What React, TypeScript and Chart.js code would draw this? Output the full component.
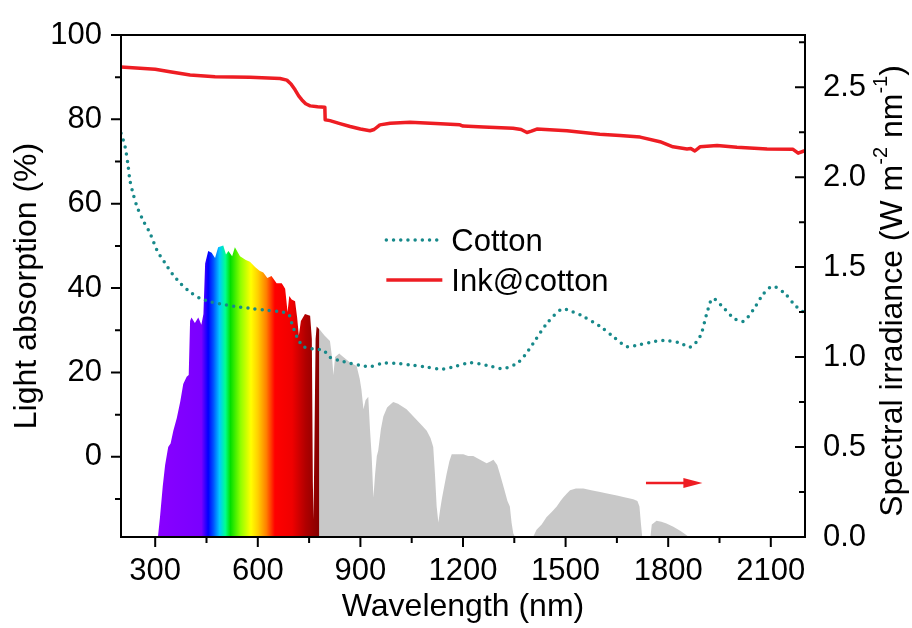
import React, { useEffect, useRef } from 'react';
import { Chart, registerables } from 'chart.js';

Chart.register(...registerables);

const FONT = "'Liberation Sans', Arial, Helvetica, sans-serif";

// ---- axes ----
const X_MIN = 200;
const X_MAX = 2200;
const X_TICKS = [300, 600, 900, 1200, 1500, 1800, 2100];
const X_MINOR = [450, 750, 1050, 1350, 1650, 1950];
const LEFT_MIN = -19;
const LEFT_MAX = 100;
const LEFT_TICKS = [0, 20, 40, 60, 80, 100];
const LEFT_MINOR = [-10, 10, 30, 50, 70, 90];
const RIGHT_MIN = 0;
const RIGHT_MAX = 2.79;
const RIGHT_TICKS = [0, 0.5, 1.0, 1.5, 2.0, 2.5];
const RIGHT_MINOR = [0.25, 0.75, 1.25, 1.75, 2.25, 2.75];

// ---- Cotton (dotted, left axis) ----
const COTTON_NM = [200, 205, 212, 220, 226, 235, 247, 265, 285, 305, 329, 350, 373, 400, 431, 460, 489, 530, 577, 620, 665, 690, 700, 714, 724, 733, 760, 790, 796, 811, 840, 870, 900, 928, 966, 1000, 1045, 1090, 1142, 1180, 1220, 1270, 1317, 1358, 1380, 1405, 1446, 1489, 1520, 1551, 1601, 1639, 1680, 1710, 1747, 1785, 1835, 1864, 1893, 1913, 1930, 1960, 1990, 2019, 2050, 2080, 2106, 2140, 2170, 2200];
const COTTON_ABS = [76.7, 75.5, 73.5, 69.5, 65.6, 62.5, 59.3, 56.0, 53.0, 49.0, 45.9, 43.4, 41.2, 39.2, 37.6, 36.8, 36.3, 35.7, 35.2, 34.8, 34.4, 33.8, 31.5, 28.5, 27.0, 26.1, 25.6, 25.3, 25.0, 23.6, 22.8, 22.2, 21.7, 21.4, 22.2, 22.2, 21.8, 21.3, 20.8, 21.5, 22.3, 21.7, 20.9, 22.2, 24.0, 26.9, 31.7, 35.0, 34.4, 33.3, 30.9, 28.5, 26.1, 26.5, 27.1, 27.6, 27.0, 26.0, 28.5, 34.0, 37.5, 35.5, 33.0, 32.1, 35.0, 38.8, 40.4, 38.8, 36.0, 34.0];

// ---- Ink@cotton (solid red, left axis) ----
const INK_NM = [200, 300, 343, 402, 475, 577, 665, 685, 697, 709, 720, 729, 740, 753, 775, 796, 797, 811, 840, 870, 900, 928, 940, 957, 987, 1045, 1120, 1191, 1200, 1260, 1346, 1370, 1387, 1400, 1416, 1504, 1600, 1659, 1718, 1776, 1814, 1855, 1866, 1878, 1893, 1943, 2001, 2089, 2165, 2180, 2197, 2200];
const INK_ABS = [92.4, 91.9, 91.3, 90.5, 90.1, 90.0, 89.7, 89.3, 88.4, 87.0, 85.5, 84.6, 83.7, 83.2, 83.0, 82.9, 79.9, 79.7, 79.0, 78.3, 77.7, 77.3, 77.6, 78.7, 79.1, 79.3, 79.0, 78.7, 78.4, 78.2, 77.9, 77.6, 76.9, 77.2, 77.7, 77.3, 76.5, 76.2, 75.8, 74.7, 73.5, 73.0, 73.1, 72.5, 73.5, 73.8, 73.4, 73.0, 72.9, 72.0, 72.5, 72.5];

// ---- Solar spectral irradiance (filled, right axis) ----
const SPEC_NM = [300, 308, 314, 322, 329, 338, 345, 353, 363, 373, 382, 392, 398, 402, 406, 416, 426, 435, 441, 446, 455, 465, 475, 484, 499, 507, 514, 525, 533, 548, 565, 577, 592, 605, 616, 628, 640, 655, 670, 680, 687, 692, 699, 709, 715, 720, 726, 738, 753, 758, 761, 763, 766, 769, 772, 782, 795, 811, 817, 821, 826, 838, 850, 870, 889, 898, 903, 909, 915, 923, 928, 933, 938, 943, 948, 952, 960, 967, 978, 990, 996, 1010, 1035, 1060, 1080, 1094, 1105, 1113, 1118, 1123, 1128, 1133, 1138, 1145, 1152, 1160, 1167, 1185, 1201, 1215, 1230, 1250, 1269, 1280, 1289, 1300, 1308, 1320, 1330, 1337, 1342, 1347, 1352, 1405, 1415, 1430, 1444, 1460, 1474, 1485, 1493, 1503, 1513, 1530, 1552, 1575, 1601, 1625, 1650, 1675, 1698, 1710, 1716, 1720, 1724, 1748, 1752, 1766, 1780, 1795, 1815, 1835, 1854, 1860, 2200];
const SPEC_IRR = [0, 0, 0.11, 0.28, 0.40, 0.50, 0.52, 0.59, 0.66, 0.75, 0.85, 0.89, 0.90, 1.20, 1.22, 1.19, 1.22, 1.18, 1.24, 1.52, 1.59, 1.58, 1.55, 1.61, 1.62, 1.57, 1.59, 1.56, 1.61, 1.56, 1.54, 1.53, 1.50, 1.48, 1.47, 1.44, 1.45, 1.41, 1.41, 1.38, 1.25, 1.34, 1.32, 1.31, 1.22, 1.12, 1.20, 1.24, 1.23, 1.10, 0.30, 0.10, 0.60, 1.10, 1.17, 1.15, 1.12, 1.09, 1.00, 0.90, 1.00, 1.02, 1.00, 0.97, 0.95, 0.88, 0.82, 0.71, 0.76, 0.78, 0.60, 0.45, 0.22, 0.35, 0.45, 0.48, 0.60, 0.67, 0.72, 0.74, 0.75, 0.74, 0.71, 0.66, 0.62, 0.59, 0.55, 0.50, 0.35, 0.17, 0.08, 0.15, 0.21, 0.28, 0.35, 0.42, 0.46, 0.46, 0.46, 0.45, 0.45, 0.43, 0.41, 0.42, 0.43, 0.40, 0.35, 0.27, 0.20, 0.17, 0.08, 0.02, 0, 0, 0.04, 0.07, 0.11, 0.14, 0.17, 0.20, 0.22, 0.24, 0.26, 0.27, 0.27, 0.26, 0.25, 0.24, 0.23, 0.22, 0.21, 0.20, 0.17, 0.08, 0, 0, 0.07, 0.09, 0.085, 0.075, 0.057, 0.035, 0.01, 0, 0];

// visible band colouring of the spectrum (wavelength -> colour)
const RAINBOW_NM = [310, 435, 455, 470, 488, 505, 520, 550, 580, 600, 625, 650, 700, 740, 779.5, 780.5];
const RAINBOW_COLORS = ['#8800ff', '#7a00ff', '#0000ff', '#0050ff', '#00c8ff', '#00ff90', '#00e000', '#90ff00', '#ffff00', '#ffd000', '#ff8000', '#ff0000', '#f00000', '#b00000', '#850000', '#c8c8c8'];
const SPEC_GRAY = '#c8c8c8';

// legend + arrow annotation (in data units)
const LEGEND_NM = 970;
const LEGEND_ROWS = [51.4, 41.9];
const ARROW_FROM_NM = 1735;
const ARROW_TO_NM = 1900;
const ARROW_Y = 0.3;

const TEAL = '#17898a';
const RED = '#ee1d23';

const toXY = (xs: number[], ys: number[]) => xs.map((x, i) => ({ x, y: ys[i] }));

const decor = {
  id: 'decor',
  beforeDraw(chart: any) {
    const ctx = chart.ctx;
    ctx.save();
    ctx.fillStyle = '#ffffff';
    ctx.fillRect(0, 0, chart.width, chart.height);
    ctx.restore();
  },
  afterDraw(chart: any) {
    const ctx = chart.ctx;
    const { left, right, top, bottom } = chart.chartArea;
    const xs = chart.scales.x;
    const yl = chart.scales.y;
    const yr = chart.scales.y1;
    ctx.save();
    ctx.strokeStyle = '#000';
    ctx.lineWidth = 2;
    ctx.strokeRect(left, top, right - left, bottom - top);
    ctx.lineWidth = 2;
    ctx.beginPath();
    X_TICKS.forEach((v) => { const p = xs.getPixelForValue(v); ctx.moveTo(p, bottom); ctx.lineTo(p, bottom + 10); });
    X_MINOR.forEach((v) => { const p = xs.getPixelForValue(v); ctx.moveTo(p, bottom); ctx.lineTo(p, bottom + 6); });
    LEFT_TICKS.forEach((v) => { const p = yl.getPixelForValue(v); ctx.moveTo(left, p); ctx.lineTo(left - 10, p); });
    LEFT_MINOR.forEach((v) => { const p = yl.getPixelForValue(v); ctx.moveTo(left, p); ctx.lineTo(left - 6, p); });
    RIGHT_TICKS.forEach((v) => { const p = yr.getPixelForValue(v); ctx.moveTo(right, p); ctx.lineTo(right - 10, p); });
    RIGHT_MINOR.forEach((v) => { const p = yr.getPixelForValue(v); ctx.moveTo(right, p); ctx.lineTo(right - 6, p); });
    ctx.stroke();

    // right axis title with superscripts, reading bottom-to-top
    const parts: [string, boolean][] = [['Spectral irradiance (W m', false], ['-2', true], [' nm', false], ['-1', true], [')', false]];
    const big = `32px ${FONT}`;
    const small = `20px ${FONT}`;
    let total = 0;
    parts.forEach(([t, s]) => { ctx.font = s ? small : big; total += ctx.measureText(t).width; });
    ctx.translate(902, (top + bottom) / 2 + 5);
    ctx.rotate(-Math.PI / 2);
    ctx.fillStyle = '#000';
    ctx.textBaseline = 'alphabetic';
    ctx.textAlign = 'left';
    let cx = -total / 2;
    parts.forEach(([t, s]) => {
      ctx.font = s ? small : big;
      ctx.fillText(t, cx, s ? -15 : 0);
      cx += ctx.measureText(t).width;
    });
    ctx.restore();

    // legend
    ctx.save();
    const lx = xs.getPixelForValue(LEGEND_NM);
    const items = [
      { label: 'Cotton', color: TEAL, dotted: true },
      { label: 'Ink@cotton', color: RED, dotted: false },
    ];
    items.forEach((it, i) => {
      const yy = yl.getPixelForValue(LEGEND_ROWS[i]);
      ctx.beginPath();
      ctx.strokeStyle = it.color;
      if (it.dotted) {
        ctx.lineWidth = 3.5;
        ctx.lineCap = 'round';
        ctx.setLineDash([0, 7.2]);
      } else {
        ctx.lineWidth = 3.5;
        ctx.lineCap = 'butt';
        ctx.setLineDash([]);
      }
      ctx.moveTo(lx + 2, yy);
      ctx.lineTo(lx + 58, yy);
      ctx.stroke();
      ctx.setLineDash([]);
      ctx.fillStyle = '#000';
      ctx.font = `31px ${FONT}`;
      ctx.textBaseline = 'alphabetic';
      ctx.textAlign = 'left';
      ctx.fillText(it.label, lx + 67, yy + 11);
    });
    ctx.restore();

    // arrow pointing to the right axis
    ctx.save();
    const ax0 = xs.getPixelForValue(ARROW_FROM_NM);
    const ax1 = xs.getPixelForValue(ARROW_TO_NM);
    const ay = yr.getPixelForValue(ARROW_Y);
    ctx.strokeStyle = RED;
    ctx.fillStyle = RED;
    ctx.lineWidth = 2.5;
    ctx.beginPath();
    ctx.moveTo(ax0, ay);
    ctx.lineTo(ax1 - 16, ay);
    ctx.stroke();
    ctx.beginPath();
    ctx.moveTo(ax1, ay);
    ctx.lineTo(ax1 - 19, ay - 5);
    ctx.lineTo(ax1 - 19, ay + 5);
    ctx.closePath();
    ctx.fill();
    ctx.restore();
  },
};

export default function App() {
  const ref = useRef<HTMLCanvasElement>(null);
  useEffect(() => {
    const canvas = ref.current;
    if (!canvas) return;
    Chart.defaults.font.family = FONT;
    Chart.defaults.color = '#000';

    const spectrumFill = (c: any) => {
      const chart = c.chart;
      const xs = chart.scales?.x;
      if (!chart.chartArea || !xs) return SPEC_GRAY;
      const g = chart.ctx.createLinearGradient(xs.left, 0, xs.right, 0);
      const span = xs.max - xs.min;
      RAINBOW_NM.forEach((nm, i) => {
        g.addColorStop(Math.min(1, Math.max(0, (nm - xs.min) / span)), RAINBOW_COLORS[i]);
      });
      g.addColorStop(1, SPEC_GRAY);
      return g;
    };

    const chart = new Chart(canvas, {
      type: 'line',
      data: {
        datasets: [
          {
            label: 'Cotton',
            data: toXY(COTTON_NM, COTTON_ABS),
            yAxisID: 'y',
            borderColor: TEAL,
            borderWidth: 3.5,
            borderDash: [0, 7.2],
            borderCapStyle: 'round',
            pointRadius: 0,
            fill: false,
            tension: 0.3,
          },
          {
            label: 'Ink@cotton',
            data: toXY(INK_NM, INK_ABS),
            yAxisID: 'y',
            borderColor: RED,
            borderWidth: 3.5,
            borderJoinStyle: 'round',
            pointRadius: 0,
            fill: false,
            tension: 0,
          },
          {
            label: 'AM1.5 spectrum',
            data: toXY(SPEC_NM, SPEC_IRR),
            yAxisID: 'y1',
            borderWidth: 0,
            borderColor: 'rgba(0,0,0,0)',
            backgroundColor: spectrumFill,
            pointRadius: 0,
            fill: 'origin',
            tension: 0,
          },
        ],
      } as any,
      options: {
        responsive: false,
        animation: false,
        events: [],
        layout: { padding: { top: 35, left: 0, right: 0, bottom: 0 } },
        plugins: { legend: { display: false }, tooltip: { enabled: false } },
        scales: {
          x: {
            type: 'linear',
            position: 'bottom',
            min: X_MIN,
            max: X_MAX,
            afterBuildTicks: (s: any) => { s.ticks = X_TICKS.map((v) => ({ value: v })); },
            afterFit: (s: any) => { s.height = 91; },
            grid: { display: false },
            border: { display: false },
            ticks: { font: { size: 31 }, color: '#000', padding: 8, maxRotation: 0, autoSkip: false, callback: (v: any) => String(v) },
            title: { display: true, text: 'Wavelength (nm)', font: { size: 32 }, color: '#000', padding: { top: 0, bottom: 2 } },
          },
          y: {
            type: 'linear',
            position: 'left',
            min: LEFT_MIN,
            max: LEFT_MAX,
            afterBuildTicks: (s: any) => { s.ticks = LEFT_TICKS.map((v) => ({ value: v })); },
            afterFit: (s: any) => { s.width = 121; },
            grid: { display: false },
            border: { display: false },
            ticks: { font: { size: 31 }, color: '#000', padding: 11, autoSkip: false, callback: (v: any) => String(v) },
            title: { display: true, text: 'Light absorption (%)', font: { size: 32 }, color: '#000', padding: { top: 8, bottom: 0 } },
          },
          y1: {
            type: 'linear',
            position: 'right',
            min: RIGHT_MIN,
            max: RIGHT_MAX,
            afterBuildTicks: (s: any) => { s.ticks = RIGHT_TICKS.map((v) => ({ value: v })); },
            afterFit: (s: any) => { s.width = 107; },
            grid: { display: false },
            border: { display: false },
            ticks: { font: { size: 31 }, color: '#000', padding: 10, autoSkip: false, callback: (v: any) => Number(v).toFixed(1) },
            title: { display: false, text: 'Spectral irradiance (W m-2 nm-1)' },
          },
        },
      } as any,
      plugins: [decor],
    });
    return () => chart.destroy();
  }, []);

  return (
    <div style={{ position: 'fixed', left: 0, top: 0, width: 912, height: 628, background: '#fff' }}>
      <canvas ref={ref} width={912} height={628} style={{ display: 'block', width: 912, height: 628 }} />
    </div>
  );
}
